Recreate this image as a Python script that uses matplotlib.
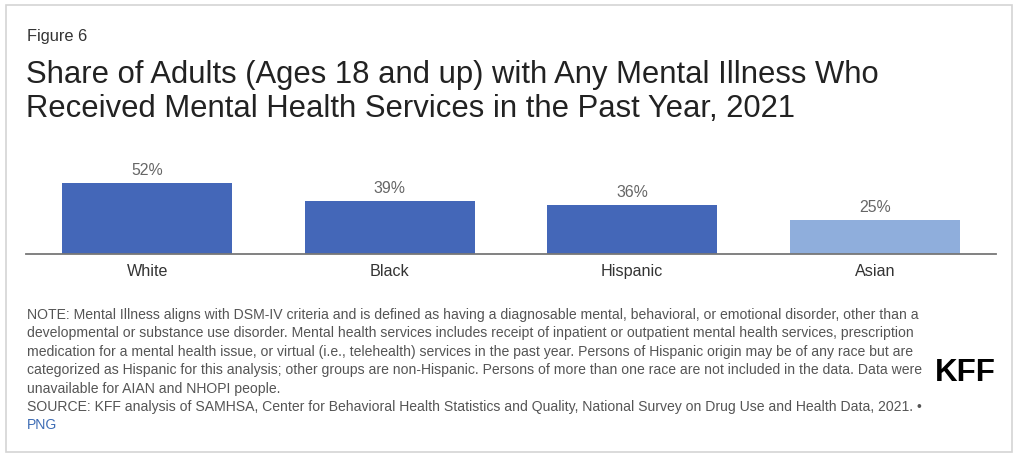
import matplotlib
matplotlib.use("Agg")
import matplotlib.pyplot as plt
from matplotlib.patches import Rectangle
from matplotlib import font_manager

categories = ["White", "Black", "Hispanic", "Asian"]
values = [52, 39, 36, 25]
value_labels = ["52%", "39%", "36%", "25%"]
bar_colors = ["#4467B8", "#4467B8", "#4467B8", "#8FAEDC"]

fig_label = "Figure 6"
title_lines = ["Share of Adults (Ages 18 and up) with Any Mental Illness Who",
               "Received Mental Health Services in the Past Year, 2021"]
note_lines = [
    "NOTE: Mental Illness aligns with DSM-IV criteria and is defined as having a diagnosable mental, behavioral, or emotional disorder, other than a",
    "developmental or substance use disorder. Mental health services includes receipt of inpatient or outpatient mental health services, prescription",
    "medication for a mental health issue, or virtual (i.e., telehealth) services in the past year. Persons of Hispanic origin may be of any race but are",
    "categorized as Hispanic for this analysis; other groups are non-Hispanic. Persons of more than one race are not included in the data. Data were",
    "unavailable for AIAN and NHOPI people.",
    "SOURCE: KFF analysis of SAMHSA, Center for Behavioral Health Statistics and Quality, National Survey on Drug Use and Health Data, 2021. \u2022",
]
link_text = "PNG"
logo_text = "KFF"

plt.rcParams['font.family'] = ['Liberation Sans', 'DejaVu Sans']

available = {f.name for f in font_manager.fontManager.ttflist}
if 'Liberation Sans Narrow' in available:
    logo_family, logo_size = 'Liberation Sans Narrow', 26
elif 'DejaVu Sans Condensed' in available:
    logo_family, logo_size = 'DejaVu Sans Condensed', 24
else:
    logo_family, logo_size = 'Liberation Sans', 22.5

W, H = 1024, 459
fig = plt.figure(figsize=(W / 100, H / 100), dpi=100)
fig.patch.set_facecolor("white")

def fx(px):
    return px / W

def fy(py):
    return 1 - py / H

# outer border
fig.patches.append(Rectangle((fx(6), fy(452)), fx(1012) - fx(6), fy(5) - fy(452),
                             transform=fig.transFigure, fill=False,
                             edgecolor="#d4d4d4", linewidth=1.2))

fig.text(fx(27), fy(41), fig_label, fontsize=11.8, color="#333333", va="baseline")
fig.text(fx(26), fy(83.5), title_lines[0], fontsize=22.3, color="#222222", va="baseline")
fig.text(fx(26), fy(117), title_lines[1], fontsize=22.3, color="#222222", va="baseline")

# axes
ax_left, ax_right, ax_top, ax_bottom = 26, 996, 150, 254
ax = fig.add_axes([fx(ax_left), fy(ax_bottom), fx(ax_right - ax_left), fy(ax_top) - fy(ax_bottom)])
x = list(range(len(categories)))
bars = ax.bar(x, values, width=0.70, color=bar_colors, zorder=2)
ax.set_xlim(-0.5, len(categories) - 0.5)
ax.set_ylim(0, 76.5)
for b, lab in zip(bars, value_labels):
    ax.annotate(lab, (b.get_x() + b.get_width() / 2, b.get_height()),
                xytext=(0, 6), textcoords="offset points", ha="center",
                va="baseline", fontsize=11.4, color="#666666")
ax.set_xticks(x)
ax.set_xticklabels(categories, fontsize=11.6, color="#333333")
ax.tick_params(axis="x", length=0, pad=7)
ax.set_yticks([])
for s in ["top", "right", "left"]:
    ax.spines[s].set_visible(False)
ax.spines["bottom"].set_color("#777777")
ax.spines["bottom"].set_linewidth(1.3)
ax.patch.set_alpha(0)

# notes
y0 = 319
for i, line in enumerate(note_lines):
    fig.text(fx(27), fy(y0 + i * 18.4), line, fontsize=10.1, color="#555555", va="baseline")
fig.text(fx(27), fy(y0 + len(note_lines) * 18.4), link_text, fontsize=10.1,
         color="#3E6DB5", va="baseline")

fig.text(fx(996), fy(381), logo_text, fontsize=logo_size, fontweight="heavy", color="black",
         family=logo_family, ha="right", va="baseline")

fig.savefig("out.png", dpi=100, facecolor="white")
